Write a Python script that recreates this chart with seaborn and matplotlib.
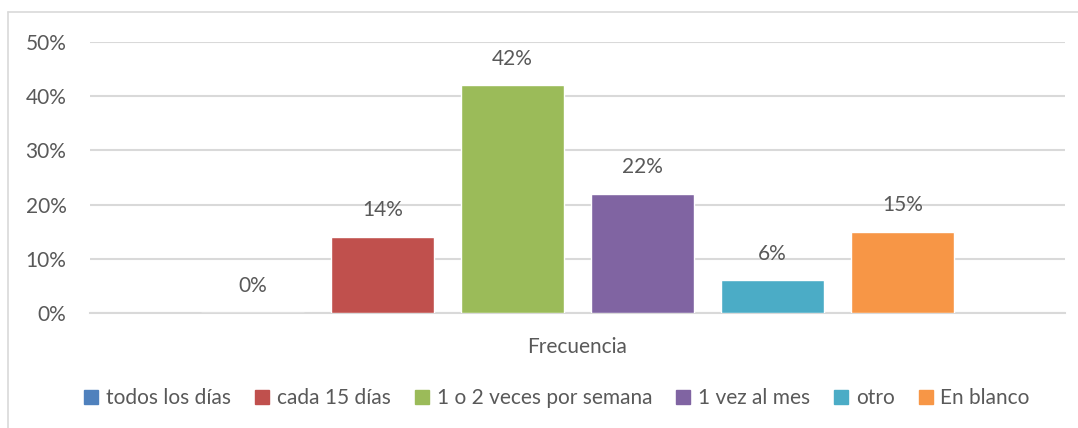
import matplotlib
matplotlib.use("Agg")
import matplotlib.pyplot as plt
import seaborn as sns
import pandas as pd
from matplotlib.lines import Line2D
from matplotlib.ticker import PercentFormatter

# data
categoria = "Frecuencia"
series = ["todos los días", "cada 15 días", "1 o 2 veces por semana",
          "1 vez al mes", "otro", "En blanco"]
valores = [0.00, 0.14, 0.42, 0.22, 0.06, 0.15]
colores = ["#4F81BD", "#C0504D", "#9BBB59", "#8064A2", "#4BACC6", "#F79646"]

df = pd.DataFrame({"cat": [categoria] * len(series), "serie": series, "valor": valores})

sns.set_style("white")
plt.rcParams["font.family"] = ["Lato", "DejaVu Sans"]
gris = "#595959"
fs = 15

fig = plt.figure(figsize=(10.78, 4.28), dpi=100)
ax = fig.add_axes([90 / 1078, 1 - 313 / 428, (1065 - 90) / 1078, (313 - 42) / 428])

sns.barplot(data=df, x="cat", y="valor", hue="serie", hue_order=series,
            palette=colores, width=0.8, gap=0.215, saturation=1,
            ax=ax, legend=False, zorder=3)

for cont, v in zip(ax.containers, valores):
    ax.bar_label(cont, labels=[f"{v:.0%}"], padding=12, fontsize=fs, color=gris)

ax.set_ylim(0, 0.5)
ax.set_xlim(-0.5, 0.5)
ax.set_yticks([0, 0.1, 0.2, 0.3, 0.4, 0.5])
ax.yaxis.set_major_formatter(PercentFormatter(1.0, decimals=0))
ax.grid(axis="y", color="#D9D9D9", linewidth=1.5, zorder=0)
ax.set_axisbelow(True)
for s in ["top", "right", "left"]:
    ax.spines[s].set_visible(False)
ax.spines["bottom"].set_color("#D9D9D9")
ax.spines["bottom"].set_linewidth(1.5)
ax.tick_params(axis="both", length=0, labelsize=fs, colors=gris)
ax.tick_params(axis="y", pad=17)
ax.tick_params(axis="x", pad=17)
ax.set_xlabel("")
ax.set_ylabel("")

handles = [Line2D([], [], marker="s", linestyle="", markersize=10,
                  markerfacecolor=c, markeredgecolor=c) for c in colores]
fig.legend(handles, series, loc="center", bbox_to_anchor=(557 / 1078, 1 - 398 / 428),
           ncol=6, frameon=False, fontsize=fs, labelcolor=gris,
           handlelength=0.7, handletextpad=0.35, columnspacing=1.15)

# chart border (top and left visible in the reference)
fig.add_artist(Line2D([8 / 1078, 1], [1 - 12 / 428, 1 - 12 / 428], color="#D9D9D9", linewidth=1.2))
fig.add_artist(Line2D([8 / 1078, 8 / 1078], [0, 1 - 12 / 428], color="#D9D9D9", linewidth=1.2))

fig.savefig("out.png", dpi=100)
